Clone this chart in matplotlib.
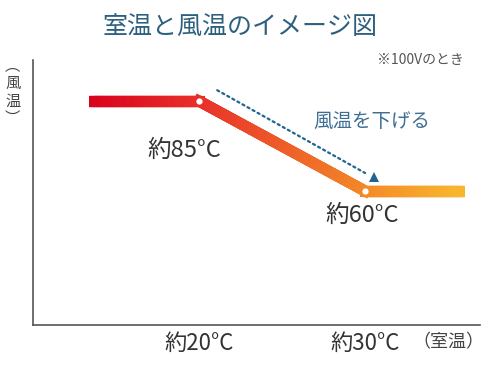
import numpy as np
import matplotlib
matplotlib.use("Agg")
import matplotlib.pyplot as plt
from matplotlib.collections import LineCollection
from matplotlib.colors import LinearSegmentedColormap
from matplotlib.patches import Rectangle

plt.rcParams['font.family'] = ['Noto Sans CJK JP', 'DejaVu Sans']

# データ（室温 → 風温）
room_temp = [13.4, 20, 30, 36]
wind_temp = [85, 85, 60, 60]
knee_idx = [1, 2]
knee_labels = ["約85°C", "約60°C"]
xtick_vals = [20, 30]
xtick_labels = ["約20°C", "約30°C"]

title = "室温と風温のイメージ図"
note = "※100Vのとき"
arrow_text = "風温を下げる"

fig = plt.figure(figsize=(4.9, 3.68), dpi=100)
ax = fig.add_axes([0.067, 0.117, 0.912, 0.72])
ax.set_xlim(10, 36.9)
ax.set_ylim(22.8, 96.4)

# グラデーションの線（描画用に細かく分割）
cmap = LinearSegmentedColormap.from_list(
    "heat", [(0, "#d8001c"), (0.3, "#e8302a"), (0.75, "#f38a28"), (1, "#f9b72d")])
pts = []
for i in range(len(room_temp) - 1):
    t = np.linspace(0, 1, 60)
    xs = room_temp[i] + (room_temp[i + 1] - room_temp[i]) * t
    ys = wind_temp[i] + (wind_temp[i + 1] - wind_temp[i]) * t
    pts.append(np.column_stack([xs, ys]))
pts = np.vstack(pts)
segs = np.stack([pts[:-1], pts[1:]], axis=1)
pos = (segs[:, 0, 0] - room_temp[0]) / (room_temp[-1] - room_temp[0])
lc = LineCollection(segs, colors=cmap(pos), linewidths=8, capstyle='projecting')
ax.add_collection(lc)
clip = Rectangle((room_temp[0], 0), room_temp[-1] - room_temp[0], 200,
                 transform=ax.transData, visible=False)
ax.add_patch(clip)
lc.set_clip_path(clip)

# 折れ点
kx = [room_temp[i] for i in knee_idx]
ky = [wind_temp[i] for i in knee_idx]
ax.plot(kx, ky, 'o', color='white', markersize=4.5, markeredgewidth=0, zorder=5)

# 折れ点ラベル
ax.text(kx[0] - 0.9, ky[0] - 13.6, knee_labels[0], ha='center', va='center',
        fontsize=17, color='#333333')
ax.text(kx[1] - 0.2, ky[1] - 6.9, knee_labels[1], ha='center', va='center',
        fontsize=17, color='#333333')

# 点線の矢印
ax.annotate("", xy=(30.0, 65.0), xytext=(21.1, 88),
            arrowprops=dict(arrowstyle='-', linestyle=(0, (1, 1.6)), lw=1.6,
                            color='#1f6590', shrinkA=0, shrinkB=0))
ax.plot([30.55], [64.0], marker='^', markersize=7, color='#1f6590', markeredgewidth=0)
ax.text(30.4, 79.2, arrow_text, ha='center', va='center', fontsize=14, color='#3d6e93')

# 軸
for s in ['top', 'right']:
    ax.spines[s].set_visible(False)
for s in ['left', 'bottom']:
    ax.spines[s].set_color('#555555')
    ax.spines[s].set_linewidth(1.2)
ax.set_yticks([])
ax.set_xticks(xtick_vals)
ax.set_xticklabels(xtick_labels, fontsize=16, color='#333333')
ax.tick_params(axis='x', length=0, pad=5)

fig.text(0.026, 0.75, "︵\n風\n温\n︶", ha='center', va='center', linespacing=1.05,
         fontsize=11, color='#444444')
fig.text(0.915, 0.07, "（室温）", ha='center', va='center', fontsize=13, color='#444444')
fig.text(0.49, 0.927, title, ha='center', va='center', fontsize=18, color='#2d5f7f')
fig.text(0.857, 0.838, note, ha='center', va='center', fontsize=10, color='#555555')

plt.savefig("out.png", dpi=100)
plt.close()
